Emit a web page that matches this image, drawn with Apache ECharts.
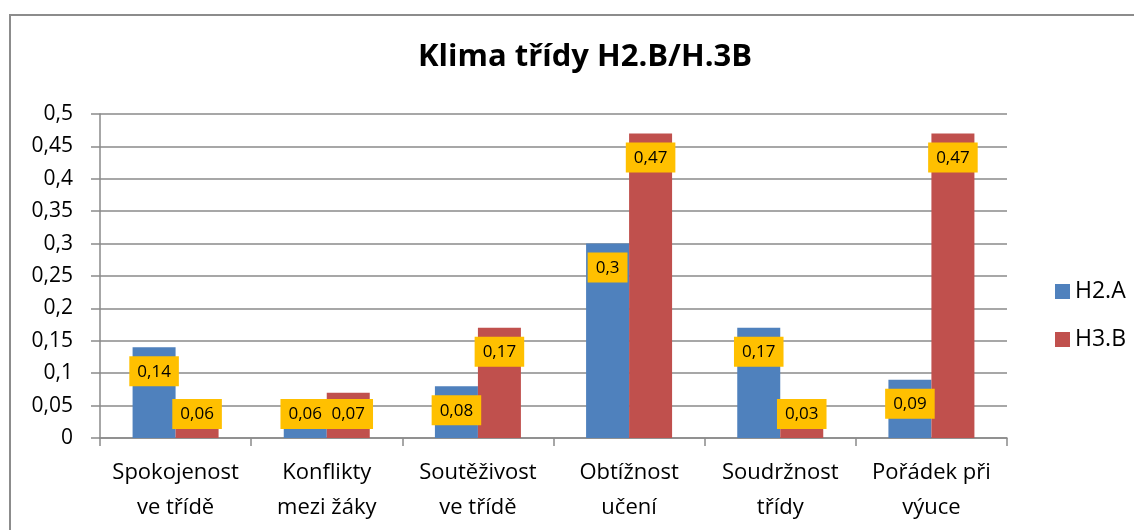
<!DOCTYPE html>
<html lang="cs">
<head>
    <meta charset="utf-8" />
    <title>Klima třídy</title>
    <script src="https://cdn.jsdelivr.net/npm/echarts@6/dist/echarts.min.js"></script>
</head>
<body style="margin:0">
    <div id="main" style="width:1134px;height:530px"></div>
    <script>
        var categories = ['Spokojenost\nve třídě', 'Konflikty\nmezi žáky', 'Soutěživost\nve třídě', 'Obtížnost\nučení', 'Soudržnost\ntřídy', 'Pořádek při\nvýuce'];
        var h2a = [0.14, 0.06, 0.08, 0.3, 0.17, 0.09];
        var h3b = [0.06, 0.07, 0.17, 0.47, 0.03, 0.47];
        var seriesNames = ['H2.A', 'H3.B'];

        var font = 'Open Sans';
        var grey = '#8a8a8a';

        function comma(v) {
            return String(Math.round(v * 100) / 100).replace('.', ',');
        }

        // small bars get the label pinned at the bottom, like Excel does
        function toData(arr) {
            return arr.map(function (v) {
                var small = v < 0.075;
                return {
                    value: v,
                    label: { position: small ? 'insideBottom' : 'insideTop', distance: 9 }
                };
            });
        }

        var labelStyle = {
            show: true,
            formatter: function (p) { return comma(p.value); },
            backgroundColor: '#FFC000',
            padding: [7, 8, 6, 8],
            color: '#000',
            fontFamily: font,
            fontSize: 17
        };

        var myChart = echarts.init(document.getElementById('main'));

        var option = {
            animation: false,
            backgroundColor: '#fff',
            textStyle: { fontFamily: font },
            title: {
                text: 'Klima třídy H2.B/H.3B',
                left: 580,
                textAlign: 'center',
                top: 37,
                textStyle: { fontFamily: font, fontSize: 31, fontWeight: 'bold', color: '#000' }
            },
            graphic: [{
                type: 'rect',
                shape: { x: 10, y: 15, width: 1200, height: 600 },
                style: { fill: 'none', stroke: '#8c8c8c', lineWidth: 2 },
                silent: true
            }],
            legend: {
                data: seriesNames,
                orient: 'vertical',
                left: 1050,
                top: 275,
                itemWidth: 15,
                itemHeight: 15,
                itemGap: 25,
                icon: 'rect',
                textStyle: { fontFamily: font, fontSize: 23, color: '#000' }
            },
            grid: { left: 100, right: 127, top: 114, bottom: 92 },
            xAxis: {
                type: 'category',
                data: categories,
                axisLine: { lineStyle: { color: grey, width: 1.5 } },
                axisTick: { show: true, length: 8, lineStyle: { color: grey, width: 1.5 } },
                axisLabel: { color: '#000', fontFamily: font, fontSize: 22, lineHeight: 35, margin: 17, interval: 0 }
            },
            yAxis: {
                type: 'value',
                min: 0,
                max: 0.5,
                interval: 0.05,
                axisLine: { show: true, lineStyle: { color: grey, width: 1.5 } },
                axisTick: { show: true, length: 9, lineStyle: { color: grey, width: 1.5 } },
                splitLine: { lineStyle: { color: grey, width: 1.5 } },
                axisLabel: {
                    color: '#000', fontFamily: font, fontSize: 21, margin: 27,
                    formatter: comma
                }
            },
            series: [{
                name: seriesNames[0],
                type: 'bar',
                data: toData(h2a),
                barWidth: 43,
                barGap: '0%',
                itemStyle: { color: '#4F81BD' },
                label: labelStyle
            }, {
                name: seriesNames[1],
                type: 'bar',
                data: toData(h3b),
                barWidth: 43,
                barGap: '0%',
                itemStyle: { color: '#C0504D' },
                label: labelStyle
            }]
        };

        myChart.setOption(option);
    </script>
</body>
</html>
